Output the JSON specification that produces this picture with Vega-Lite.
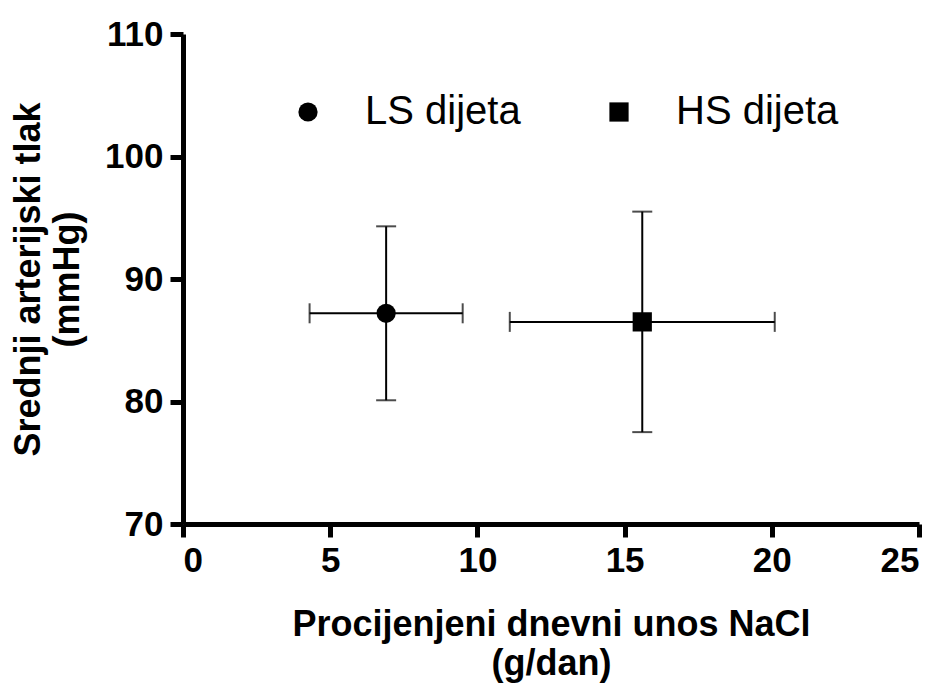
{
  "$schema": "https://vega.github.io/schema/vega-lite/v6.json",
  "width": 736,
  "height": 490,
  "autosize": {"type": "none"},
  "padding": {"left": 183, "top": 34, "right": 22, "bottom": 160},
  "background": "white",
  "data": {"values": [
    {"dieta": "LS dijeta", "x": 6.9, "xlo": 4.3, "xhi": 9.5, "y": 87.2, "ylo": 80.1, "yhi": 94.3},
    {"dieta": "HS dijeta", "x": 15.6, "xlo": 11.1, "xhi": 20.1, "y": 86.5, "ylo": 77.5, "yhi": 95.5}
  ]},
  "config": {
    "view": {"stroke": null},
    "font": "Liberation Sans",
    "axis": {
      "grid": false,
      "domainColor": "black",
      "domainWidth": 5,
      "tickColor": "black",
      "tickWidth": 5,
      "tickSize": 13,
      "labelFont": "Liberation Sans",
      "labelFontWeight": "bold",
      "labelFontSize": 35,
      "labelColor": "black",
      "titleFont": "Liberation Sans",
      "titleFontWeight": "bold",
      "titleFontSize": 36,
      "titleColor": "black",
      "titleLineHeight": 39
    },
    "legend": {
      "orient": "none",
      "legendX": 105,
      "legendY": 58,
      "direction": "horizontal",
      "padding": 0,
      "labelFont": "Liberation Sans",
      "labelFontSize": 40,
      "labelLimit": 400,
      "labelColor": "black",
      "labelOffset": 37,
      "columnPadding": 78,
      "symbolFillColor": "black",
      "symbolStrokeColor": "black",
      "symbolSize": 370,
      "symbolStrokeWidth": 0
    }
  },
  "encoding": {},
  "layer": [
    {
      "mark": {"type": "rule", "color": "black", "strokeWidth": 2},
      "encoding": {
        "x": {"field": "xlo", "type": "quantitative", "scale": {"domain": [0, 25], "nice": false, "zero": false},
              "axis": {"values": [0, 5, 10, 15, 20, 25], "labelPadding": 6, "titlePadding": 29, "title": ["Procijenjeni dnevni unos NaCl", "(g/dan)"]}},
        "x2": {"field": "xhi"},
        "y": {"field": "y", "type": "quantitative", "scale": {"domain": [70, 110], "nice": false, "zero": false},
              "axis": {"values": [70, 80, 90, 100, 110], "labelPadding": 7, "titlePadding": 18, "title": ["Srednji arterijski tlak", "(mmHg)"]}}
      }
    },
    {
      "mark": {"type": "rule", "color": "black", "strokeWidth": 2},
      "encoding": {
        "x": {"field": "x", "type": "quantitative"},
        "y": {"field": "ylo", "type": "quantitative"},
        "y2": {"field": "yhi"}
      }
    },
    {
      "mark": {"type": "tick", "orient": "vertical", "color": "black", "size": 20, "thickness": 2},
      "encoding": {"x": {"field": "xlo", "type": "quantitative"}, "y": {"field": "y", "type": "quantitative"}}
    },
    {
      "mark": {"type": "tick", "orient": "vertical", "color": "black", "size": 20, "thickness": 2},
      "encoding": {"x": {"field": "xhi", "type": "quantitative"}, "y": {"field": "y", "type": "quantitative"}}
    },
    {
      "mark": {"type": "tick", "orient": "horizontal", "color": "black", "size": 20, "thickness": 2},
      "encoding": {"x": {"field": "x", "type": "quantitative"}, "y": {"field": "ylo", "type": "quantitative"}}
    },
    {
      "mark": {"type": "tick", "orient": "horizontal", "color": "black", "size": 20, "thickness": 2},
      "encoding": {"x": {"field": "x", "type": "quantitative"}, "y": {"field": "yhi", "type": "quantitative"}}
    },
    {
      "mark": {"type": "point", "filled": true, "opacity": 1, "color": "black", "size": 370},
      "encoding": {
        "x": {"field": "x", "type": "quantitative"},
        "y": {"field": "y", "type": "quantitative"},
        "shape": {"field": "dieta", "type": "nominal",
                  "scale": {"domain": ["LS dijeta", "HS dijeta"], "range": ["circle", "square"]},
                  "legend": {"title": null}}
      }
    }
  ]
}
